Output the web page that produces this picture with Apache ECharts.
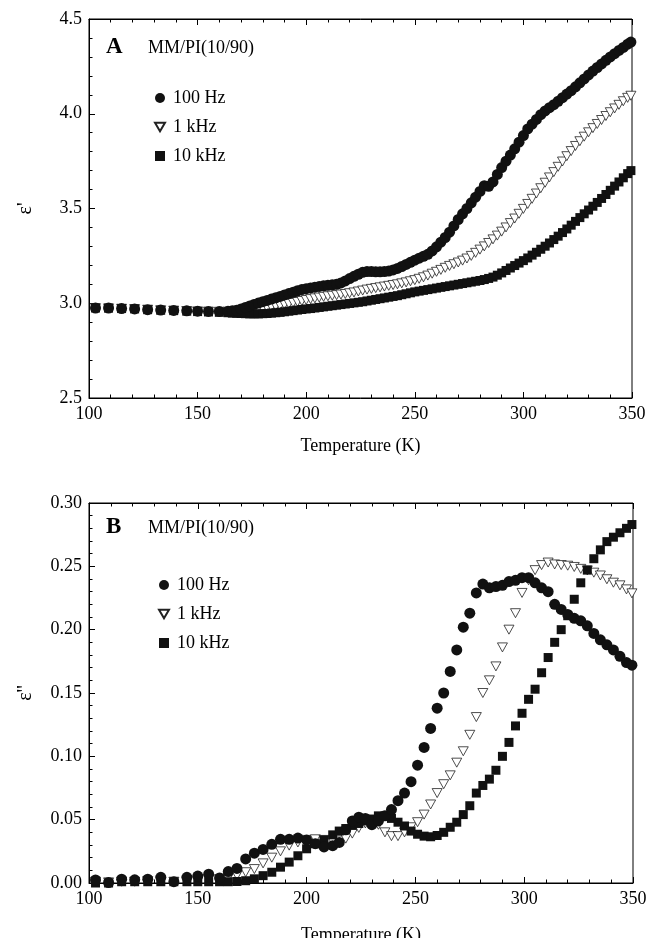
<!DOCTYPE html>
<html>
<head>
<meta charset="utf-8">
<script src="https://cdn.jsdelivr.net/npm/echarts@6/dist/echarts.min.js"></script>
<style>
html,body{margin:0;padding:0;background:#fff;}
#chart{width:651px;height:938px;}
</style>
</head>
<body>
<div id="chart"></div>
<script>
// ---------- Data ----------
const seriesNames = ['100 Hz', '1 kHz', '10 kHz'];
const xTicks = [100, 150, 200, 250, 300, 350];
const yTicksA = ['2.5', '3.0', '3.5', '4.0', '4.5'];
const yTicksB = ['0.00', '0.05', '0.10', '0.15', '0.20', '0.25', '0.30'];

// Panel A: temperature (K)
const tempA = [103,109,115,121,127,133,139,145,150,155,160,
  164,166,168,170,172,174,176,178,180,182,184,186,188,190,192,194,196,198,
  200,202,204,206,208,210,212,214,216,218,220,222,224,226,228,230,232,234,236,238,
  240,242,244,246,248,250,252,254,256,258,260,262,264,266,268,270,272,274,276,278,
  280,282,284,286,288,290,292,294,296,298,300,302,304,306,308,310,312,314,316,318,
  320,322,324,326,328,330,332,334,336,338,340,342,344,346,348,349.5];

const epsA100 = [2.975,2.975,2.972,2.970,2.966,2.964,2.962,2.960,2.958,2.957,2.957,
  2.958,2.960,2.963,2.970,2.978,2.986,2.994,3.001,3.008,3.015,3.022,3.029,3.036,3.044,3.051,3.058,3.066,3.072,
  3.077,3.081,3.085,3.089,3.092,3.095,3.097,3.100,3.107,3.118,3.130,3.142,3.153,3.163,3.167,3.167,3.166,3.166,3.167,3.170,
  3.176,3.184,3.194,3.205,3.216,3.227,3.238,3.248,3.258,3.276,3.298,3.322,3.347,3.375,3.408,3.442,3.472,3.500,3.530,3.560,
  3.590,3.620,3.617,3.640,3.680,3.716,3.750,3.782,3.815,3.850,3.885,3.920,3.945,3.970,3.995,4.015,4.032,4.048,4.066,4.085,
  4.104,4.122,4.142,4.163,4.184,4.205,4.225,4.244,4.263,4.282,4.300,4.317,4.334,4.350,4.367,4.378];

const epsA1k = [2.974,2.973,2.971,2.969,2.966,2.963,2.961,2.959,2.957,2.956,2.955,
  2.955,2.955,2.955,2.956,2.958,2.961,2.964,2.968,2.972,2.976,2.980,2.984,2.988,2.993,2.997,3.002,3.007,3.012,
  3.017,3.022,3.026,3.030,3.034,3.037,3.040,3.043,3.046,3.049,3.053,3.057,3.062,3.067,3.072,3.076,3.080,3.084,3.088,3.092,
  3.096,3.100,3.105,3.110,3.116,3.122,3.129,3.137,3.146,3.156,3.166,3.176,3.187,3.197,3.206,3.215,3.225,3.236,3.250,3.266,
  3.283,3.300,3.318,3.337,3.357,3.378,3.400,3.423,3.447,3.472,3.498,3.524,3.551,3.579,3.607,3.636,3.664,3.692,3.720,3.748,
  3.776,3.803,3.830,3.855,3.879,3.902,3.924,3.946,3.967,3.988,4.008,4.028,4.047,4.066,4.084,4.095];

const epsA10k = [2.975,2.974,2.972,2.970,2.966,2.963,2.961,2.958,2.956,2.954,2.952,
  2.950,2.948,2.947,2.946,2.945,2.944,2.944,2.944,2.945,2.946,2.948,2.950,2.952,2.955,2.958,2.961,2.964,2.967,
  2.970,2.972,2.975,2.978,2.981,2.984,2.987,2.990,2.993,2.996,2.999,3.002,3.005,3.008,3.012,3.016,3.020,3.024,3.028,3.032,
  3.036,3.040,3.045,3.050,3.055,3.060,3.064,3.068,3.072,3.076,3.080,3.084,3.088,3.092,3.096,3.100,3.104,3.108,3.112,3.116,
  3.120,3.125,3.131,3.138,3.148,3.160,3.173,3.186,3.199,3.212,3.225,3.239,3.254,3.269,3.285,3.301,3.318,3.336,3.354,3.373,
  3.392,3.412,3.432,3.452,3.472,3.492,3.512,3.532,3.553,3.574,3.596,3.618,3.640,3.662,3.684,3.700];

// Panel B: temperature (K)
const tempB = [103,109,115,121,127,133,139,145,150,155,160,164,168,172,176,180,184,188,192,196,200,204,208,212,
  215,218,221,224,227,230,233,236,239,242,
  245,248,251,254,257,260,263,266,269,272,
  275,278,281,284,287,290,293,296,299,302,
  305,308,311,314,317,320,323,326,329,332,
  335,338,341,344,347,349.5];

const epsB100 = [0.0024,0.0004,0.003,0.0025,0.003,0.0045,0.001,0.0045,0.0055,0.007,0.004,0.009,0.0115,0.019,0.0235,0.0265,0.0305,0.0345,0.0345,0.0355,0.034,0.031,0.0285,0.0295,
  0.032,0.042,0.049,0.052,0.051,0.046,0.049,0.053,0.058,0.065,
  0.071,0.080,0.093,0.107,0.122,0.138,0.150,0.167,0.184,0.202,
  0.213,0.229,0.236,0.233,0.234,0.235,0.238,0.239,0.241,0.241,
  0.237,0.233,0.230,0.220,0.216,0.212,0.209,0.207,0.203,0.197,
  0.192,0.188,0.184,0.179,0.174,0.172];

const epsB1k = [0.001,0.0005,0.001,0.001,0.0015,0.002,0.001,0.002,0.002,0.003,0.003,0.004,0.006,0.0085,0.011,0.0155,0.020,0.025,0.0295,0.032,0.034,0.0345,0.034,0.033,
  0.0335,0.035,0.039,0.0435,0.047,0.049,0.046,0.040,0.037,0.037,
  0.040,0.044,0.048,0.054,0.062,0.071,0.078,0.085,0.095,0.104,
  0.117,0.131,0.150,0.160,0.171,0.186,0.200,0.213,0.229,0.239,
  0.247,0.251,0.253,0.2515,0.251,0.2505,0.2495,0.248,0.2468,0.245,
  0.2428,0.2398,0.2371,0.235,0.2318,0.2287];

const epsB10k = [0.000,0.000,0.001,0.001,0.001,0.001,0.001,0.001,0.001,0.001,0.001,0.001,0.0012,0.0018,0.0033,0.0058,0.0085,0.0125,0.0165,0.0215,0.027,0.031,0.034,0.038,
  0.041,0.043,0.0455,0.047,0.049,0.0505,0.053,0.053,0.051,0.048,
  0.045,0.041,0.0385,0.037,0.0365,0.0375,0.040,0.044,0.048,0.054,
  0.061,0.071,0.077,0.082,0.089,0.100,0.111,0.124,0.134,0.145,
  0.153,0.166,0.178,0.190,0.200,0.211,0.224,0.237,0.247,0.256,
  0.263,0.2695,0.273,0.2765,0.280,0.283];

// ---------- Chart ----------
const FONT = '"Liberation Serif", "Times New Roman", serif';
const FS = 18;
const chart = echarts.init(document.getElementById('chart'), null, {renderer: 'canvas'});
const pair = (t, v) => t.map((x, i) => [x, v[i]]);
const triPath = 'path://M0,0L10,0L5,8.66Z';

const grids = [
  {left: 89, top: 19, width: 543, height: 379},
  {left: 89, top: 503, width: 544, height: 380}
];

function xAxes(gi, gap) {
  const base = {
    type: 'value', gridIndex: gi,
    min: xTicks[0], max: xTicks[xTicks.length - 1], interval: xTicks[1] - xTicks[0],
    axisLine: {show: true, onZero: false, lineStyle: {color: '#000', width: 1}},
    axisTick: {show: true, inside: true, length: 6, lineStyle: {color: '#000'}},
    minorTick: {show: true, splitNumber: 5, length: 3.5, lineStyle: {color: '#000'}},
    splitLine: {show: false}, minorSplitLine: {show: false}
  };
  return [
    Object.assign({}, base, {
      position: 'bottom',
      axisLabel: {show: true, color: '#000', fontFamily: FONT, fontSize: FS, margin: 7},
      name: 'Temperature (K)', nameLocation: 'middle', nameGap: gap,
      nameTextStyle: {color: '#000', fontFamily: FONT, fontSize: FS}
    }),
    Object.assign({}, base, {position: 'top', axisLabel: {show: false}})
  ];
}

function yAxis(gi, ticks, digits, name) {
  const lo = parseFloat(ticks[0]), hi = parseFloat(ticks[ticks.length - 1]);
  const step = parseFloat(ticks[1]) - lo;
  return {
    type: 'value', gridIndex: gi, min: lo, max: hi, interval: step,
    axisLine: {show: true, onZero: false, lineStyle: {color: '#000', width: 1}},
    axisTick: {show: true, inside: true, length: 6, lineStyle: {color: '#000'}},
    minorTick: {show: true, splitNumber: 5, length: 3.5, lineStyle: {color: '#000'}},
    splitLine: {show: false}, minorSplitLine: {show: false},
    axisLabel: {color: '#000', fontFamily: FONT, fontSize: FS, margin: 7,
      formatter: v => v.toFixed(digits)},
    name: name, nameLocation: 'middle', nameRotate: 90, nameGap: 53,
    nameTextStyle: {color: '#000', fontFamily: FONT, fontSize: 20}
  };
}

function mkSeries(xi, yi, data, kind) {
  const s = {type: 'scatter', xAxisIndex: xi, yAxisIndex: yi, data: data, animation: false, silent: true};
  if (kind === 0) {
    Object.assign(s, {name: seriesNames[0], symbol: 'circle', symbolSize: 11, z: 4,
      itemStyle: {color: '#111', borderWidth: 0, opacity: 1}});
  } else if (kind === 1) {
    Object.assign(s, {name: seriesNames[1], symbol: triPath, symbolSize: [10, 9], z: 2,
      itemStyle: {color: '#fff', borderColor: '#222', borderWidth: 0.8, opacity: 1}});
  } else {
    Object.assign(s, {name: seriesNames[2], symbol: 'rect', symbolSize: 9, z: 3,
      itemStyle: {color: '#111', borderWidth: 0, opacity: 1}});
  }
  return s;
}

const legendData = [
  {name: seriesNames[0], icon: 'circle'},
  {name: seriesNames[1], icon: triPath},
  {name: seriesNames[2], icon: 'rect'}
];
function legend(left, top) {
  return {
    data: legendData, orient: 'vertical', left: left, top: top,
    itemWidth: 10, itemHeight: 10, itemGap: 11, padding: 0, selectedMode: false,
    textStyle: {color: '#000', fontFamily: FONT, fontSize: FS, padding: [0, 0, 0, 3]}
  };
}

const option = {
  animation: false,
  backgroundColor: '#fff',
  grid: grids.map(g => Object.assign({show: true, borderColor: '#000', borderWidth: 1,
    backgroundColor: 'transparent', containLabel: false, outerBoundsMode: 'none'}, g)),
  xAxis: [].concat(xAxes(0, 39), xAxes(1, 43)),
  yAxis: [yAxis(0, yTicksA, 1, "ε'"), yAxis(1, yTicksB, 2, "ε''")],
  legend: [legend(154, 89), legend(158, 576)],
  graphic: [
    {type: 'text', left: 106, top: 36, style: {text: 'A', font: 'bold 23px ' + FONT, fill: '#000'}},
    {type: 'text', left: 148, top: 39, style: {text: 'MM/PI(10/90)', font: FS + 'px ' + FONT, fill: '#000'}},
    {type: 'text', left: 106, top: 516, style: {text: 'B', font: 'bold 23px ' + FONT, fill: '#000'}},
    {type: 'text', left: 148, top: 519, style: {text: 'MM/PI(10/90)', font: FS + 'px ' + FONT, fill: '#000'}}
  ],
  series: [
    mkSeries(0, 0, pair(tempA, epsA1k), 1),
    mkSeries(0, 0, pair(tempA, epsA10k), 2),
    mkSeries(0, 0, pair(tempA, epsA100), 0),
    mkSeries(2, 1, pair(tempB, epsB1k), 1),
    mkSeries(2, 1, pair(tempB, epsB10k), 2),
    mkSeries(2, 1, pair(tempB, epsB100), 0)
  ]
};
chart.setOption(option);
</script>
</body>
</html>
